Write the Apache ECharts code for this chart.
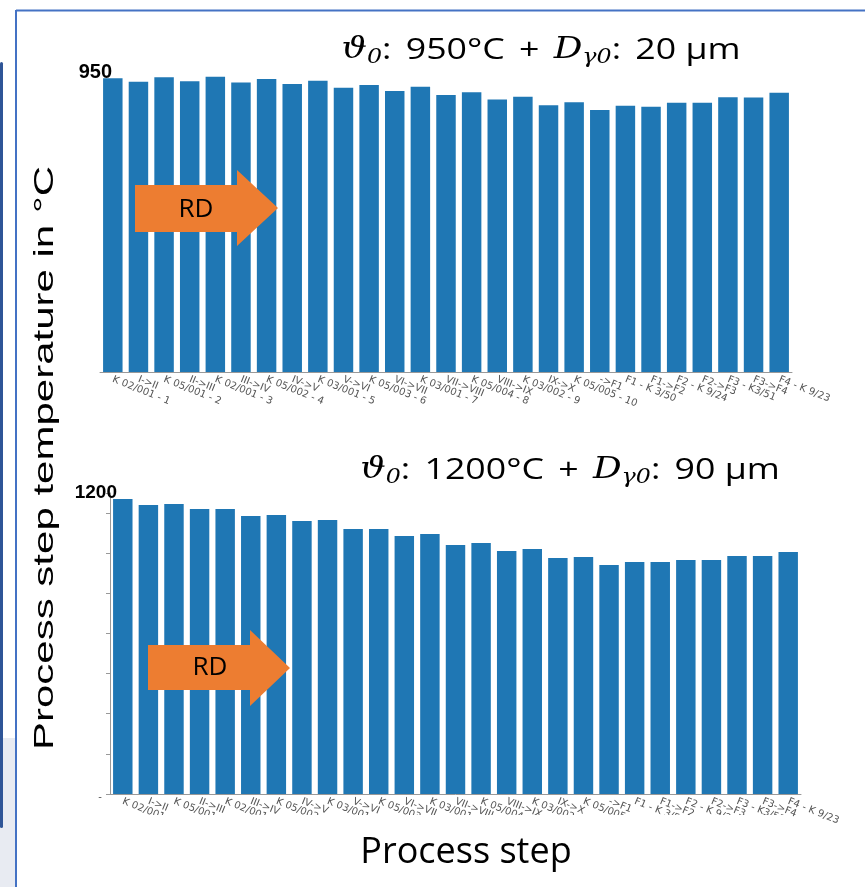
<!DOCTYPE html>
<html><head><meta charset="utf-8">
<script src="https://cdn.jsdelivr.net/npm/echarts@6/dist/echarts.min.js"></script>
<style>html,body{margin:0;padding:0;background:#fff}#c{width:865px;height:887px}</style>
</head><body><div id="c"></div>
<script>
const categories = ['K 02/001 - 1','I->II','K 05/001 - 2','II->III','K 02/001 - 3','III->IV','K 05/002 - 4','IV->V','K 03/001 - 5','V->VI','K 05/003 - 6','VI->VII','K 03/001 - 7','VII->VIII','K 05/004 - 8','VIII->IX','K 03/002 - 9','IX->X','K 05/005 - 10','->F1','F1 - K 3/50','F1->F2','F2 - K 9/24','F2->F3','F3 - K3/51','F3->F4','F4 - K 9/23'];
const topValues = [930,919,933,921,935,917,928,912,922,900,909,890,903,877,886,863,872,845,854,830,843,840,853,853,870,869,884];
const bottomValues = [1176,1152,1156,1136,1136,1108,1112,1088,1092,1056,1056,1029,1037,993,1001,969,977,941,945,913,925,925,933,933,949,949,965];
const topMax = 950;
const bottomMax = 1200;
const topTitle = ['ϑ', '0', '950°C', 'D', 'γ0', '20 µm'];
const bottomTitle = ['ϑ', '0', '1200°C', 'D', 'γ0', '90 µm'];
const yName = 'Process step temperature in °C';
const xName = 'Process step';
const arrowText = 'RD';

const chart = echarts.init(document.getElementById('c'), null, {renderer: 'canvas'});
const barColor = '#1f77b4';
const labelStyle = {interval: 0, rotate: -22, fontSize: 10, color: '#555', fontFamily: 'DejaVu Sans', margin: 7};

function titleRich(p) {
  return '{m|' + p[0] + '}{s|' + p[1] + '}{n|:}{g| }{n|' + p[2] + '}{g| }{n|+}{g| }{m|' + p[3] + '}{s|' + p[4] + '}{n|:}{g| }{n|' + p[5] + '}';
}
const rich = {
  m: {fontFamily: 'DejaVu Serif', fontStyle: 'italic', fontSize: 30, color: '#000'},
  s: {fontFamily: 'DejaVu Serif', fontStyle: 'italic', fontSize: 20, color: '#000', padding: [16, 0, 0, 0]},
  n: {fontFamily: 'Open Sans', fontSize: 30, color: '#000'},
  g: {fontFamily: 'Open Sans', fontSize: 30, width: 12}
};

const option = {
  animation: false,
  backgroundColor: '#fff',
  grid: [
    {left: 100, top: 72, width: 692, height: 300},
    {left: 110, top: 493, width: 691, height: 301}
  ],
  xAxis: [
    {gridIndex: 0, type: 'category', data: categories,
     axisLine: {lineStyle: {color: '#999', width: 1}},
     axisTick: {alignWithLabel: true, length: 4, lineStyle: {color: '#999'}},
     axisLabel: labelStyle},
    {gridIndex: 1, type: 'category', data: categories,
     axisLine: {lineStyle: {color: '#999', width: 1}},
     axisTick: {alignWithLabel: true, length: 4, lineStyle: {color: '#999'}},
     axisLabel: labelStyle}
  ],
  yAxis: [
    {gridIndex: 0, type: 'value', min: 0, max: topMax, interval: topMax,
     axisLine: {show: false}, axisTick: {show: false}, splitLine: {show: false},
     axisLabel: {formatter: v => v === topMax ? String(v) : '', fontWeight: 'bold', fontSize: 20,
       fontFamily: 'Liberation Sans', color: '#000', margin: -12, padding: [0, 0, 4, 0]}},
    {gridIndex: 1, type: 'value', min: 0, max: bottomMax, interval: 160,
     axisLine: {show: true, lineStyle: {color: '#999'}}, axisTick: {show: true, length: 4, lineStyle: {color: '#999'}},
     splitLine: {show: false},
     axisLabel: {formatter: v => v === bottomMax ? String(v) : '', fontWeight: 'bold', fontSize: 19,
       fontFamily: 'Liberation Sans', color: '#000', margin: -7, padding: [0, 0, 10, 0]}}
  ],
  series: [
    {type: 'bar', xAxisIndex: 0, yAxisIndex: 0, data: topValues, barCategoryGap: '24%',
     itemStyle: {color: barColor}},
    {type: 'bar', xAxisIndex: 1, yAxisIndex: 1, data: bottomValues, barCategoryGap: '24%',
     itemStyle: {color: barColor}}
  ],
  graphic: [
    {type: 'rect', z: -10, silent: true, shape: {x: 0, y: 738, width: 15, height: 149}, style: {fill: '#E8EBF2'}},
    {type: 'rect', z: -9, silent: true, shape: {x: 0, y: 62, width: 3, height: 766, r: 2}, style: {fill: '#2F5597'}},
    {type: 'rect', z: 100, silent: true, shape: {x: 18, y: 815, width: 767, height: 72}, style: {fill: '#fff'}},
    {type: 'line', z: 101, silent: true, shape: {x1: 16, y1: 10.5, x2: 865, y2: 10.5}, style: {stroke: '#4472C4', lineWidth: 2}},
    {type: 'line', z: 101, silent: true, shape: {x1: 16, y1: 10, x2: 16, y2: 887}, style: {stroke: '#4472C4', lineWidth: 2}},
    {type: 'text', z: 101, x: 100, y: 797, style: {text: '-', fontFamily: 'DejaVu Sans', fontSize: 10, fill: '#555', align: 'center', verticalAlign: 'middle'}},
    {type: 'polygon', z: 60, shape: {points: [[135,185],[237,185],[237,170],[278,208],[237,246],[237,232],[135,232]]}, style: {fill: '#ED7D31'}},
    {type: 'text', z: 61, x: 196, y: 210, style: {text: arrowText, fontFamily: 'Open Sans', fontSize: 26, fill: '#000', align: 'center', verticalAlign: 'middle'}},
    {type: 'polygon', z: 60, shape: {points: [[148,645],[250,645],[250,630],[290,668],[250,706],[250,690],[148,690]]}, style: {fill: '#ED7D31'}},
    {type: 'text', z: 61, x: 210, y: 668, style: {text: arrowText, fontFamily: 'Open Sans', fontSize: 26, fill: '#000', align: 'center', verticalAlign: 'middle'}},
    {type: 'text', z: 61, x: 541, y: 50, scaleX: 1.19, style: {text: titleRich(topTitle), rich: rich, align: 'center', verticalAlign: 'middle'}},
    {type: 'text', z: 61, x: 570, y: 470, scaleX: 1.19, style: {text: titleRich(bottomTitle), rich: rich, align: 'center', verticalAlign: 'middle'}},
    {type: 'text', z: 61, x: 45, y: 458, rotation: Math.PI / 2, scaleX: 1.5,
     style: {text: yName, fontFamily: 'Liberation Sans', fontSize: 28, fill: '#000', align: 'center', verticalAlign: 'middle'}},
    {type: 'text', z: 102, x: 466, y: 853, style: {text: xName, fontFamily: 'Open Sans', fontSize: 36, fill: '#000', align: 'center', verticalAlign: 'middle'}}
  ]
};
chart.setOption(option);
</script></body></html>
